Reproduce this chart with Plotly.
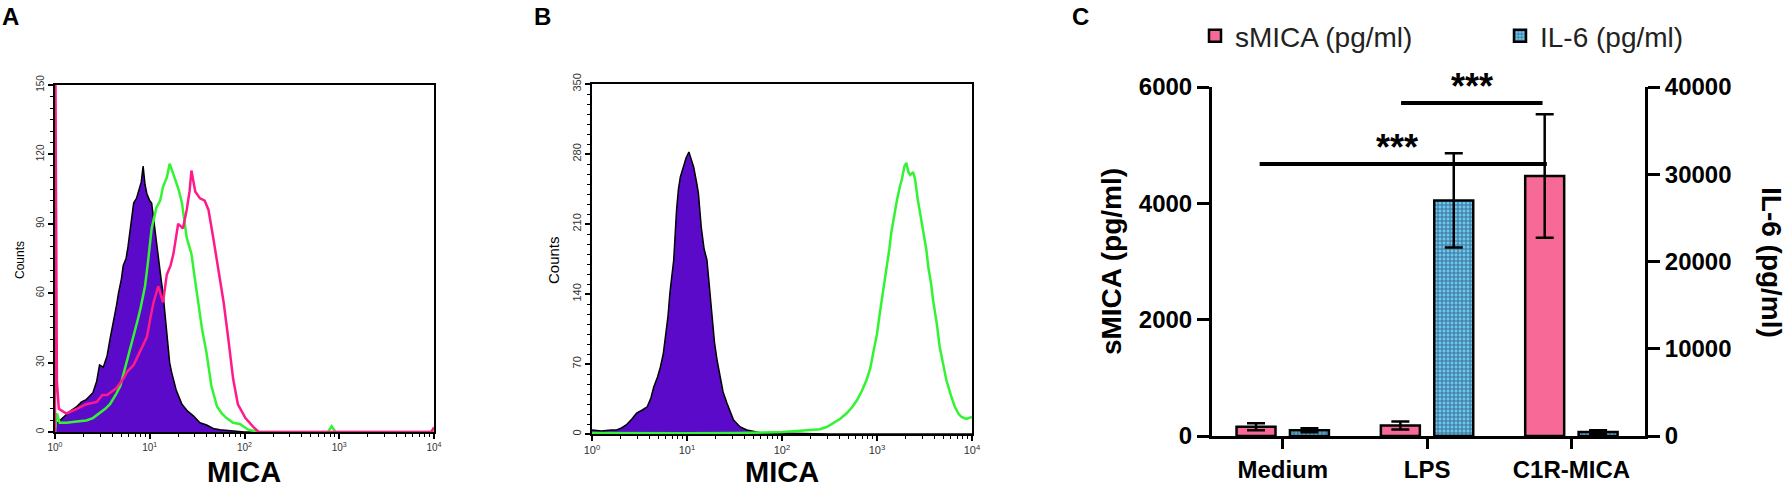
import plotly.graph_objects as go

# ---- panel A: MICA histograms (x in log10 units, counts) ----
a_purple_logx = [0.00, 0.05, 0.10, 0.16, 0.23, 0.28, 0.33, 0.40, 0.44, 0.47, 0.51, 0.55, 0.58, 0.62, 0.65, 0.67, 0.70,
                 0.72, 0.75, 0.77, 0.80, 0.83, 0.86, 0.88, 0.91, 0.93, 0.95, 0.97, 1.00, 1.02, 1.04, 1.06, 1.09, 1.12,
                 1.14, 1.18, 1.21, 1.23, 1.28, 1.34, 1.40, 1.46, 1.53, 1.60, 1.67, 1.74, 1.81, 1.90, 2.00, 4.00]
a_purple_counts = [3, 5, 7, 9, 11, 13, 14, 17, 22, 29, 28, 33, 40, 48, 55, 60, 66, 72, 75, 80, 90, 99, 101, 104, 108,
                   115, 107, 103, 100, 99, 92, 86, 74, 66, 60, 41, 30, 26, 18, 12, 9, 7, 4, 3, 1.5, 1, 0.8, 0.5, 0, 0]

a_green_logx = [0.00, 0.02, 0.05, 0.12, 0.23, 0.33, 0.40, 0.47, 0.53, 0.58, 0.64, 0.69, 0.73, 0.76, 0.80, 0.83, 0.87,
                0.90, 0.95, 0.98, 1.02, 1.07, 1.11, 1.14, 1.18, 1.21, 1.24, 1.27, 1.31, 1.34, 1.39, 1.44, 1.47, 1.50,
                1.55, 1.60, 1.65, 1.71, 1.76, 1.81, 1.88, 1.95, 2.04, 2.15, 2.88, 2.92, 2.96, 4.00]
a_green_counts = [0, 8, 4, 4, 4.5, 5, 6, 8, 10, 12, 16, 20, 26, 31, 37, 42, 48, 53, 63, 73, 88, 97, 100, 106, 110,
                  116, 112, 109, 104, 99, 84, 77, 68, 60, 45, 34, 20, 11, 8, 6, 4, 3.5, 1, 0, 0, 2.5, 0, 0]

a_pink_logx = [0.000, 0.004, 0.012, 0.02, 0.04, 0.12, 0.23, 0.33, 0.44, 0.50, 0.55, 0.65, 0.72, 0.76, 0.83, 0.90, 0.97,
               1.01, 1.04, 1.09, 1.12, 1.14, 1.18, 1.22, 1.25, 1.30, 1.35, 1.39, 1.42, 1.44, 1.48, 1.53, 1.58, 1.62,
               1.67, 1.72, 1.78, 1.83, 1.88, 1.93, 2.01, 2.09, 2.15, 3.97, 4.00]
a_pink_counts = [0, 160, 90, 22, 10, 8, 10, 12, 13, 16, 16, 19, 23, 26, 29, 35, 41, 50, 56, 63, 59, 56, 68, 72, 77,
                 90, 88, 96, 104, 113, 104, 101, 100, 96, 84, 71, 56, 40, 23, 12, 6, 2.3, 0, 0, 2]

# ---- panel B ----
b_purple_logx = [0.00, 0.10, 0.20, 0.26, 0.31, 0.36, 0.42, 0.47, 0.53, 0.58, 0.62, 0.65, 0.69, 0.72, 0.75, 0.77, 0.80,
                 0.82, 0.84, 0.86, 0.89, 0.91, 0.93, 0.96, 0.99, 1.02, 1.05, 1.07, 1.10, 1.12, 1.15, 1.18, 1.21, 1.24,
                 1.27, 1.29, 1.32, 1.35, 1.38, 1.42, 1.46, 1.49, 1.56, 1.63, 1.77, 2.01, 2.5, 4.0]
b_purple_counts = [4, 3, 4, 4, 6, 9, 15, 21, 24, 27, 36, 47, 57, 67, 80, 94, 118, 141, 160, 174, 224, 245, 257, 267,
                   276, 282, 272, 267, 252, 241, 207, 185, 174, 141, 112, 91, 72, 57, 42, 31, 20, 14, 7, 4, 1.3, 0.7,
                   0, 0]

b_green_logx = [0.00, 0.5, 1.0, 1.5, 1.84, 2.0, 2.19, 2.30, 2.40, 2.47, 2.54, 2.61, 2.68, 2.74, 2.79, 2.84, 2.89, 2.93,
                2.96, 3.00, 3.03, 3.07, 3.10, 3.13, 3.15, 3.18, 3.21, 3.24, 3.26, 3.29, 3.31, 3.33, 3.35, 3.38, 3.40,
                3.43, 3.46, 3.49, 3.52, 3.54, 3.57, 3.59, 3.63, 3.66, 3.70, 3.73, 3.78, 3.82, 3.86, 3.89, 3.94, 3.98,
                4.00]
b_green_counts = [1, 0.5, 0.7, 1, 1.3, 2, 3.3, 4, 4.7, 7, 10.7, 15, 20.7, 27, 34, 43, 54, 66, 81, 100, 121, 145, 167,
                  185, 201, 218, 234, 247, 254, 268, 271, 262, 259, 262, 255, 234, 218, 201, 184, 167, 150, 134, 110,
                  87, 70, 54, 38, 27, 20, 17, 15, 16, 17]

# ---- panel C: ELISA ----
groups = ["Medium", "LPS", "C1R-MICA"]
smica = [160, 180, 4470]
smica_err = [60, 70, 1060]
il6 = [650, 27000, 450]
il6_err = [230, 5400, 200]

# significance brackets: (x from, x to, height in sMICA units, label x, label)
brackets = [(0.82, 1.80, 5725, 1.31, "***"), (-0.16, 1.83, 4676, 0.79, "***")]

W, H = 1789, 488
FONT = "Arial, Liberation Sans, sans-serif"
PURPLE = "#5a0ac8"
GREEN = "#33f433"
HOTPINK = "#ff1a8c"
PINK = "#f76a98"


def px(x):
    return x / W


def py(y):
    return 1 - y / H


def lin(v):
    return [10 ** d for d in v]


fig = go.Figure()

fig.add_trace(go.Scatter(x=lin(a_purple_logx), y=a_purple_counts, mode="lines", fill="tozeroy",
                         fillcolor=PURPLE, line=dict(color="black", width=1.5), xaxis="x", yaxis="y",
                         showlegend=False))
fig.add_trace(go.Scatter(x=lin(a_green_logx), y=a_green_counts, mode="lines",
                         line=dict(color=GREEN, width=2.5), xaxis="x", yaxis="y", showlegend=False))
fig.add_trace(go.Scatter(x=lin(a_pink_logx), y=a_pink_counts, mode="lines",
                         line=dict(color=HOTPINK, width=2.5), xaxis="x", yaxis="y", showlegend=False))

fig.add_trace(go.Scatter(x=lin(b_purple_logx), y=b_purple_counts, mode="lines", fill="tozeroy",
                         fillcolor=PURPLE, line=dict(color="black", width=1.5), xaxis="x2", yaxis="y2",
                         showlegend=False))
fig.add_trace(go.Scatter(x=lin(b_green_logx), y=b_green_counts, mode="lines",
                         line=dict(color=GREEN, width=2.5), xaxis="x2", yaxis="y2", showlegend=False))

fig.add_trace(go.Bar(x=groups, y=smica, name="sMICA (pg/ml)", width=0.27, offset=-0.32, legend="legend",
                     marker=dict(color=PINK, line=dict(color="black", width=2.5)),
                     error_y=dict(type="data", array=smica_err, color="black", thickness=2.5, width=9),
                     xaxis="x3", yaxis="y3"))
fig.add_trace(go.Bar(x=groups, y=il6, name="IL-6 (pg/ml)", width=0.27, offset=0.05, legend="legend2",
                     marker=dict(color="#6cc8f2", line=dict(color="black", width=2.5),
                                 pattern=dict(shape="+", fgcolor="#0c1830", bgcolor="#6cc8f2", size=4,
                                              solidity=0.45)),
                     error_y=dict(type="data", array=il6_err, color="black", thickness=2.5, width=9),
                     xaxis="x3", yaxis="y4"))

decades = [1, 10, 100, 1000, 10000]
minor_vals = [m * d for d in decades[:-1] for m in range(2, 10)]


def flow_axes(xdom, ydom, ymax, ystep, yminor, fs):
    xa = dict(domain=xdom, type="log", range=[0, 4], tickvals=decades,
              ticktext=["10<sup>%d</sup>" % i for i in range(5)],
              ticks="outside", ticklen=5, tickwidth=1.5, tickcolor="black",
              minor=dict(tickmode="array", tickvals=minor_vals, ticks="outside", ticklen=3, tickwidth=1,
                         tickcolor="black"),
              showline=True, linecolor="black", linewidth=2, mirror=True, showgrid=False, zeroline=False,
              tickfont=dict(family=FONT, size=fs, color="#333"))
    ya = dict(domain=ydom, range=[0, ymax], tickvals=list(range(0, ymax + 1, ystep)), tickangle=-90,
              ticks="outside", ticklen=5, tickwidth=1.5, tickcolor="black",
              minor=dict(dtick=yminor, ticks="outside", ticklen=3, tickwidth=1, tickcolor="black"),
              showline=True, linecolor="black", linewidth=2, mirror=True, showgrid=False, zeroline=False,
              tickfont=dict(family=FONT, size=fs, color="#333"))
    return xa, ya


xa1, ya1 = flow_axes([px(55), px(434)], [py(432), py(85)], 150, 30, 5, 10)
xa2, ya2 = flow_axes([px(592), px(972)], [py(434), py(84)], 350, 70, 10, 11)
xa2["anchor"] = "y2"
ya2["anchor"] = "x2"

bold = dict(family=FONT, size=24, color="black", weight="bold")
legend_font = dict(family=FONT, size=28, color="#222")
fig.update_layout(
    width=W, height=H, margin=dict(l=0, r=0, t=0, b=0, autoexpand=False),
    paper_bgcolor="white", plot_bgcolor="white", barmode="overlay",
    xaxis=xa1, yaxis=ya1, xaxis2=xa2, yaxis2=ya2,
    xaxis3=dict(domain=[px(1212), px(1645)], anchor="y3", range=[-0.49, 2.51], type="category",
                showline=True, linecolor="black", linewidth=3, ticks="outside", ticklen=10, tickwidth=3,
                tickcolor="black", showgrid=False, zeroline=False, tickfont=bold),
    yaxis3=dict(domain=[py(436), py(87)], anchor="x3", range=[0, 6000], tickvals=[0, 2000, 4000, 6000],
                showline=True, linecolor="black", linewidth=3, ticks="outside", ticklen=12, tickwidth=3,
                tickcolor="black", showgrid=False, zeroline=False, tickfont=bold,
                title=dict(text="sMICA (pg/ml)", font=dict(family=FONT, size=28, color="black", weight="bold"),
                           standoff=10)),
    yaxis4=dict(domain=[py(436), py(87)], anchor="x3", overlaying="y3", side="right", range=[0, 40000],
                tickvals=[0, 10000, 20000, 30000, 40000], tickformat="d", showline=True, linecolor="black",
                linewidth=3, ticks="outside", ticklen=12, tickwidth=3, tickcolor="black", showgrid=False,
                zeroline=False, tickfont=bold),
    legend=dict(x=px(1195), y=py(36), xanchor="left", yanchor="middle", font=legend_font,
                bgcolor="rgba(0,0,0,0)"),
    legend2=dict(x=px(1500), y=py(36), xanchor="left", yanchor="middle", font=legend_font,
                 bgcolor="rgba(0,0,0,0)"),
)

for x0, x1, yv, xl, lab in brackets:
    fig.add_shape(type="line", xref="x3", yref="y3", x0=x0, x1=x1, y0=yv, y1=yv,
                  line=dict(color="black", width=4))
    fig.add_annotation(xref="x3", yref="y3", x=xl, y=yv, text="<b>%s</b>" % lab, showarrow=False,
                       yanchor="bottom", yshift=-6, font=dict(family=FONT, size=36, color="black"))

texts = [
    ("A", 10, 16, 24, 0, True), ("B", 542, 16, 24, 0, True), ("C", 1080, 16, 24, 0, True),
    ("Counts", 20, 260, 12, -90, False), ("Counts", 553, 260, 15, -90, False),
    ("MICA", 244, 472, 29, 0, True), ("MICA", 782, 472, 29, 0, True),
    ("IL-6 (pg/ml)", 1772, 262, 28, 90, True),
]
for t, x, y, s, ang, b in texts:
    fig.add_annotation(xref="paper", yref="paper", x=px(x), y=py(y), text=t, showarrow=False,
                       textangle=ang, xanchor="center", yanchor="middle",
                       font=dict(family=FONT, size=s, color="black", weight="bold" if b else "normal"))

fig.write_html("out.html", config={"displayModeBar": False},
               post_script="document.body.style.margin = '0';")
